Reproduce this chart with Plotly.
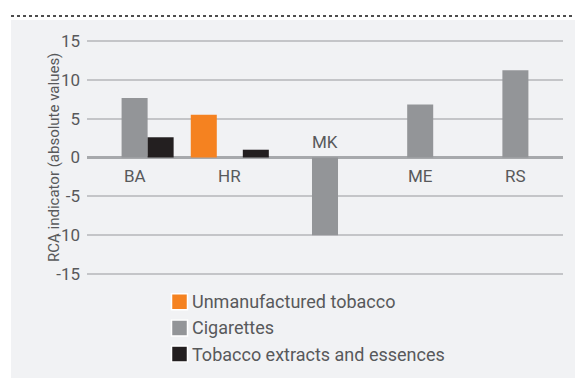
import plotly.graph_objects as go

# Revealed comparative advantage by country and tobacco product group
countries = ["BA", "HR", "MK", "ME", "RS"]
series_names = ["Unmanufactured tobacco", "Cigarettes", "Tobacco extracts and essences"]
unmanufactured = [None, 5.5, None, None, None]
cigarettes = [7.65, None, -10.0, 6.8, 11.2]
extracts = [2.6, 1.0, None, None, None]
y_ticks = [-15, -10, -5, 0, 5, 10, 15]
y_tick_text = [str(v) for v in y_ticks]

colors = ["#f58220", "#939598", "#231f20"]
text_color = "#58595b"
font_family = "Roboto, DejaVu Sans, sans-serif"

W, H = 575, 378
L, R, T, B = 87, 12, 33, 96
pw, ph = W - L - R, H - T - B


def px(x):
    return (x - L) / pw


def py(y):
    return (H - B - y) / ph


fig = go.Figure()
for name, vals, col in zip(series_names, [unmanufactured, cigarettes, extracts], colors):
    fig.add_trace(go.Bar(x=countries, y=vals, name=name, marker=dict(color=col, line=dict(width=0)),
                         showlegend=False, hoverinfo="x+y"))

shapes = [
    # light panel behind the chart
    dict(type="rect", xref="paper", yref="paper", x0=px(11), x1=px(W + 2), y0=py(H + 2), y1=py(20),
         fillcolor="#f1f2f4", line=dict(width=0), layer="below"),
    # dotted rule at the top
    dict(type="line", xref="paper", yref="paper", x0=px(11), x1=px(W), y0=py(16), y1=py(16),
         line=dict(color="#4d4d4d", width=2, dash="dot")),
]

annotations = []
# country labels next to the zero line, on the side away from the bar
for c, v in zip(countries, cigarettes):
    above = v is not None and v < 0
    annotations.append(dict(x=c, y=0, xref="x", yref="y", text=c, showarrow=False,
                            yshift=16 if above else -18,
                            font=dict(size=17, color=text_color, family=font_family)))

annotations.append(dict(x=px(43), y=py(158), xref="paper", yref="paper", text="RCA indicator (absolute values)",
                        textangle=-90, showarrow=False,
                        font=dict(size=15, color=text_color, family=font_family)))

# legend
for i, (name, col) in enumerate(zip(series_names, colors)):
    cy = 301.7 + i * 26.2
    shapes.append(dict(type="rect", xref="paper", yref="paper", x0=px(171.5), x1=px(187.5),
                       y0=py(cy + 8), y1=py(cy - 8), fillcolor=col, line=dict(color="white", width=1.5)))
    annotations.append(dict(x=px(190), y=py(cy), xref="paper", yref="paper", text=name, showarrow=False,
                            xanchor="left", yanchor="middle",
                            font=dict(size=18, color=text_color, family=font_family)))

fig.update_layout(
    width=W, height=H,
    margin=dict(l=L, r=R, t=T, b=B),
    paper_bgcolor="white", plot_bgcolor="#f1f2f4",
    barmode="group", bargap=0.18, bargroupgap=0,
    showlegend=False,
    shapes=shapes, annotations=annotations,
    xaxis=dict(showticklabels=False, showgrid=False, zeroline=False, showline=False, ticks=""),
    yaxis=dict(range=[-16, 16], tickvals=y_ticks, ticktext=y_tick_text, showgrid=True,
               gridcolor="#c4c5c8", gridwidth=1.5,
               zeroline=True, zerolinecolor="#a7a9ac", zerolinewidth=3, showline=False, ticks="",
               ticklabelstandoff=6,
               tickfont=dict(size=17, color=text_color, family=font_family)),
)

fig.write_html("out.html")
